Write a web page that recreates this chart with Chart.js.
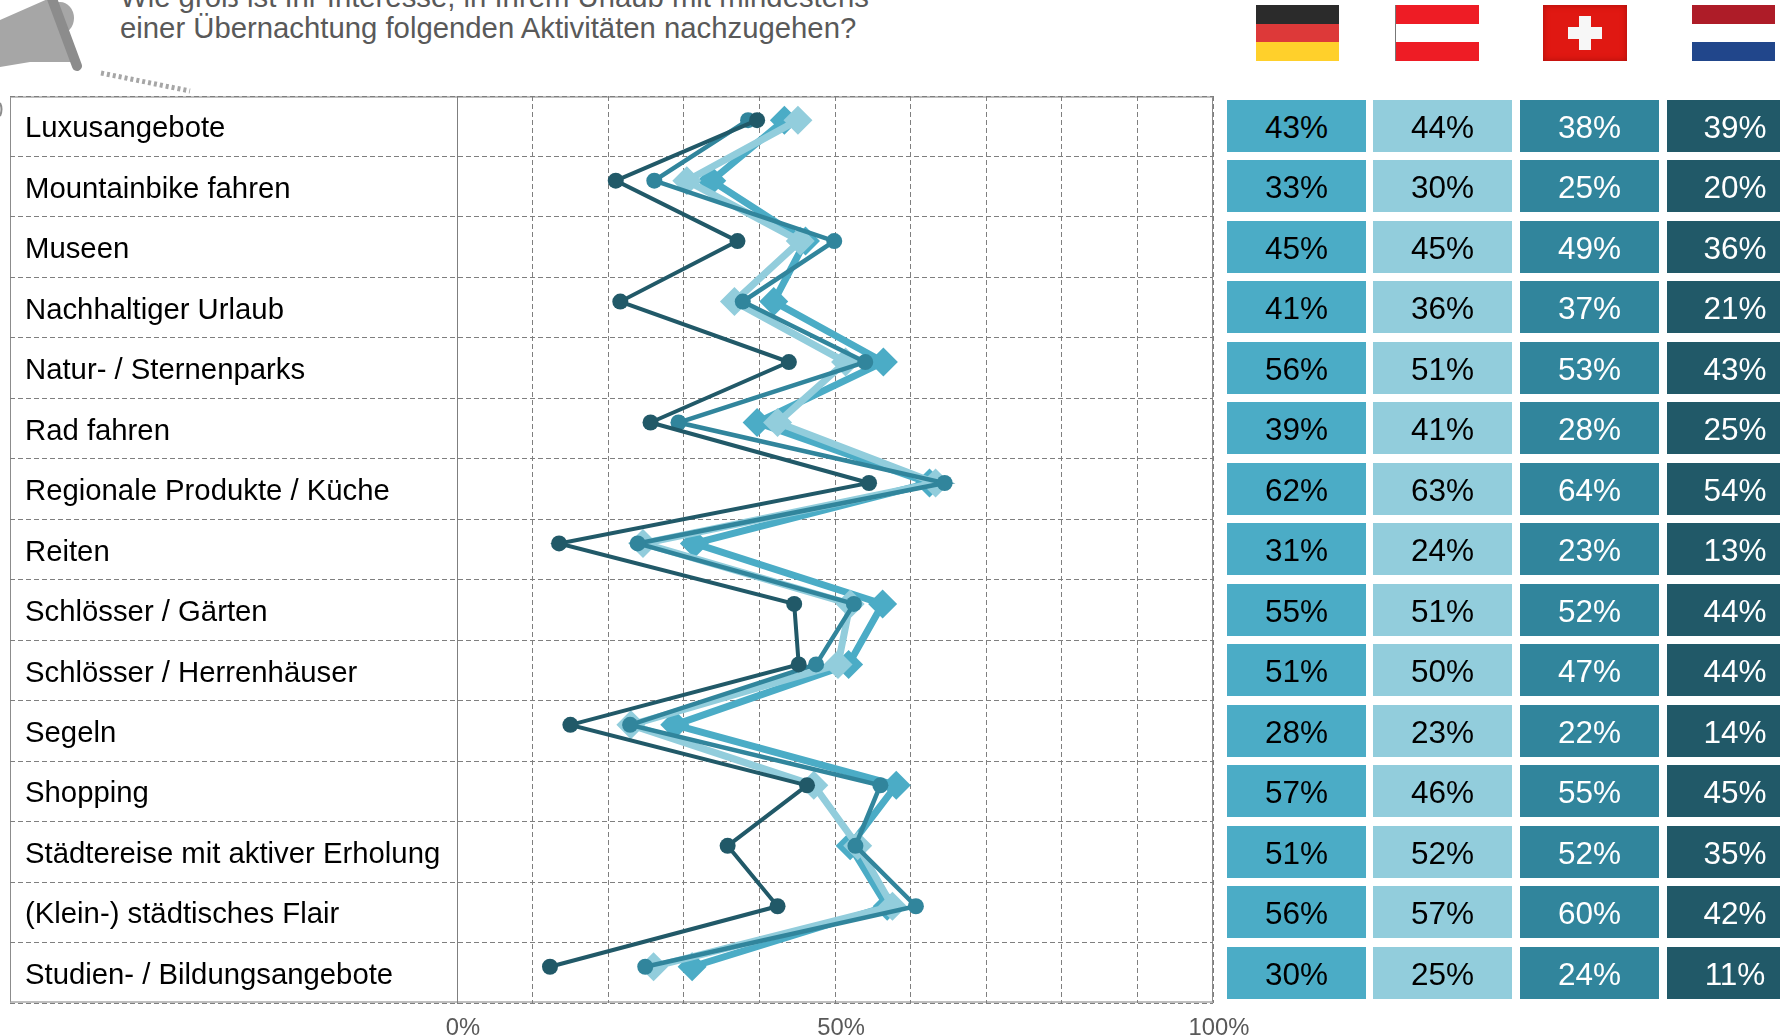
<!DOCTYPE html>
<html>
<head>
<meta charset="utf-8">
<script src="https://cdn.jsdelivr.net/npm/chart.js@4"></script>
<style>
    html, body { margin: 0; padding: 0; background: #fff; overflow: hidden; }
    body { width: 1780px; height: 1035px; position: relative; font-family: "Liberation Sans", Arial, sans-serif; }
    canvas { position: absolute; left: 0; top: 0; }
    #frame { position: absolute; left: 10px; top: 96px; width: 1203px; height: 907px; box-sizing: border-box; border: 1px solid #8c8c8c; border-top: 2px solid #bfbfbf; border-bottom: 2px solid #bfbfbf; }
    .title { position: absolute; left: 120px; font-size: 29.3px; color: #595959; white-space: nowrap; line-height: 32px; }
    .cell { position: absolute; height: 52px; line-height: 54px; text-align: center; font-size: 31.5px; overflow: hidden; }
    .flag { position: absolute; top: 5px; height: 56px; overflow: hidden; }
    .band { height: 33.34%; }
    #icon { position: absolute; left: 0; top: 0; }
</style>
</head>
<body>
<svg id="icon" width="200" height="120">
    <ellipse cx="60" cy="18" rx="14" ry="16" fill="#a6a6a6"/>
    <polygon points="0,20 50,-2 76,62 30,62 0,67" fill="#a6a6a6"/>
    <line x1="51" y1="-4" x2="77" y2="66" stroke="#8c8c8c" stroke-width="10" stroke-linecap="round"/>
    <line x1="101" y1="73" x2="190" y2="91" stroke="#a6a6a6" stroke-width="5" stroke-dasharray="3 3"/>
    <path d="M0,103 Q3,109 0,116" fill="none" stroke="#8c8c8c" stroke-width="2"/>
</svg>
<div class="title" style="top:-19px">Wie groß ist Ihr Interesse, in Ihrem Urlaub mit mindestens</div>
<div class="title" style="top:12px">einer Übernachtung folgenden Aktivitäten nachzugehen?</div>
<div id="frame"></div>
<canvas id="chart" width="1780" height="1035"></canvas>
<div id="table"></div>
<script>
const activities = [
    'Luxusangebote', 'Mountainbike fahren', 'Museen', 'Nachhaltiger Urlaub', 'Natur- / Sternenparks',
    'Rad fahren', 'Regionale Produkte / Küche', 'Reiten', 'Schlösser / Gärten', 'Schlösser / Herrenhäuser',
    'Segeln', 'Shopping', 'Städtereise mit aktiver Erholung', '(Klein-) städtisches Flair', 'Studien- / Bildungsangebote'
];

// printed in the table
const tableDE = [43, 33, 45, 41, 56, 39, 62, 31, 55, 51, 28, 57, 51, 56, 30];
const tableAT = [44, 30, 45, 36, 51, 41, 63, 24, 51, 50, 23, 46, 52, 57, 25];
const tableCH = [38, 25, 49, 37, 53, 28, 64, 23, 52, 47, 22, 55, 52, 60, 24];
const tableNL = [39, 20, 36, 21, 43, 25, 54, 13, 44, 44, 14, 45, 35, 42, 11];

// where the lines sit on the axis in the picture
const lineDE = [43.3, 33.7, 46.1, 41.9, 56.4, 39.7, 62.5, 31.4, 56.3, 51.8, 28.8, 58.1, 52.0, 56.9, 31.1];
const lineAT = [45.1, 30.4, 45.4, 36.7, 51.4, 42.4, 63.3, 24.6, 52.0, 50.4, 23.0, 47.2, 53.0, 57.6, 26.0];
const lineCH = [38.5, 26.1, 49.9, 37.8, 54.0, 29.3, 64.5, 23.9, 52.5, 47.5, 22.9, 56.0, 52.7, 60.7, 24.9];
const lineNL = [39.7, 21.0, 37.1, 21.6, 43.9, 25.6, 54.5, 13.5, 44.6, 45.2, 15.0, 46.3, 35.8, 42.4, 12.3];

const axisTicks = [0, 50, 100];

const BLUE = '#4bacc6';
const LIGHT = '#92cddc';
const TEAL = '#31859c';
const DARK = '#215968';
const GRID = '#7f7f7f';

function toPoints (values) {
    return values.map((value, index) => ({ x: value, y: index }));
}

function lineDataset (values, color, width, pointStyle, radius) {
    return {
        data: toPoints(values),
        yAxisID: 'yPoints',
        showLine: true,
        borderColor: color,
        backgroundColor: color,
        borderWidth: width,
        pointStyle: pointStyle,
        pointRadius: radius,
        pointBorderWidth: 0,
        tension: 0
    };
}

new Chart(document.getElementById('chart'), {
    type: 'scatter',
    data: {
        labels: activities,
        datasets: [
            lineDataset(lineNL, DARK, 4, 'circle', 8),
            lineDataset(lineCH, TEAL, 4.5, 'circle', 8),
            lineDataset(lineAT, LIGHT, 7, 'rectRot', 14.5),
            lineDataset(lineDE, BLUE, 7, 'rectRot', 14.5)
        ]
    },
    options: {
        responsive: false,
        animation: false,
        layout: { padding: { left: 25, right: 567, top: 96, bottom: 0 } },
        plugins: { legend: { display: false }, tooltip: { enabled: false } },
        scales: {
            x: {
                type: 'linear',
                min: 0,
                max: 100,
                afterFit: scale => { scale.height = 32; },
                border: { display: false, dash: [5, 3] },
                grid: { color: GRID, lineWidth: 1, drawTicks: false },
                ticks: {
                    stepSize: 10,
                    maxRotation: 0,
                    autoSkip: false,
                    labelOffset: 6,
                    padding: 11,
                    color: '#595959',
                    font: { family: 'Liberation Sans', size: 23.8 },
                    callback: value => axisTicks.includes(value) ? value + '%' : ''
                }
            },
            y: {
                type: 'category',
                position: 'left',
                offset: true,
                afterFit: scale => { scale.width = 432; },
                border: { color: GRID, width: 1, dash: [5, 3] },
                grid: {
                    offset: true,
                    color: GRID,
                    tickLength: 447,
                    tickColor: GRID,
                    tickBorderDash: [5, 3]
                },
                ticks: {
                    crossAlign: 'far',
                    autoSkip: false,
                    labelOffset: 3,
                    color: '#000',
                    font: { family: 'Liberation Sans', size: 29.3 }
                }
            },
            // the lines sit a little above the row centres in the original
            yPoints: {
                type: 'linear',
                axis: 'y',
                display: false,
                reverse: true,
                min: -0.4,
                max: 14.6
            }
        }
    }
});

function drawTable () {
    const columns = [
        { values: tableDE, left: 1227, width: 139, fill: BLUE, text: '#000', overhang: 0 },
        { values: tableAT, left: 1373, width: 139, fill: LIGHT, text: '#000', overhang: 0 },
        { values: tableCH, left: 1520, width: 139, fill: TEAL, text: '#fff', overhang: 0 },
        { values: tableNL, left: 1667, width: 113, fill: DARK, text: '#fff', overhang: 23 }
    ];
    const table = document.getElementById('table');

    columns.forEach(column => {
        column.values.forEach((value, index) => {
            const cell = document.createElement('div');
            cell.className = 'cell';
            cell.textContent = value + '%';
            cell.style.left = column.left + 'px';
            cell.style.top = (100 + index * 60.47) + 'px';
            cell.style.width = (column.width + column.overhang) + 'px';
            cell.style.background = column.fill;
            cell.style.color = column.text;
            table.appendChild(cell);
        });
    });
}

function drawFlag (left, width, bands) {
    const flag = document.createElement('div');
    flag.className = 'flag';
    flag.style.left = left + 'px';
    flag.style.width = width + 'px';
    bands.forEach(color => {
        const band = document.createElement('div');
        band.className = 'band';
        band.style.background = color;
        flag.appendChild(band);
    });
    document.body.appendChild(flag);
    return flag;
}

function drawFlags () {
    drawFlag(1256, 83, ['#2b2b2b', '#dd3939', '#ffd02b']);
    const austria = drawFlag(1395, 84, ['#ee1c25', '#fff', '#ee1c25']);
    austria.style.borderLeft = '1px solid #777';
    austria.style.boxSizing = 'border-box';
    drawFlag(1692, 83, ['#ae1c28', '#fff', '#21468b']);

    // swiss flag with its cross
    const swiss = drawFlag(1543, 84, ['#e01812', '#e01812', '#e01812']);
    const shade = document.createElement('div');
    shade.style.cssText = 'position:absolute;inset:0;box-shadow:inset 0 0 6px #a80f0a';
    swiss.appendChild(shade);
    const crossBars = [
        { left: 25, top: 22, width: 34, height: 12 },
        { left: 36, top: 11, width: 12, height: 34 }
    ];
    crossBars.forEach(bar => {
        const part = document.createElement('div');
        part.style.cssText = `position:absolute;left:${bar.left}px;top:${bar.top}px;width:${bar.width}px;height:${bar.height}px;background:#f7f7f7`;
        swiss.appendChild(part);
    });
}

drawTable();
drawFlags();
</script>
</body>
</html>
